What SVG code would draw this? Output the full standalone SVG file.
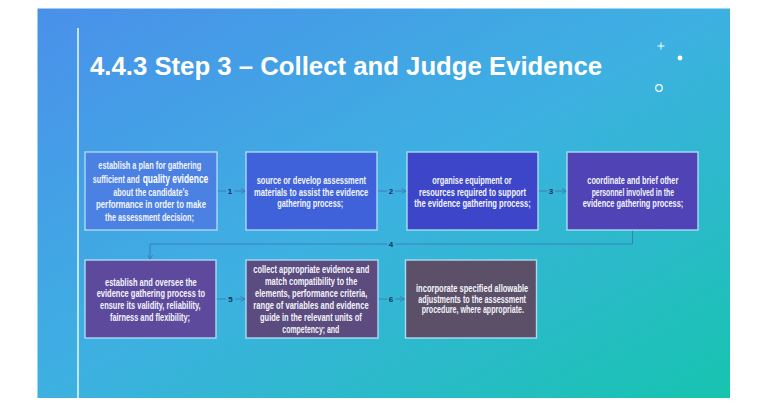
<svg xmlns="http://www.w3.org/2000/svg" width="768" height="408" viewBox="0 0 768 408">
<defs>
<linearGradient id="bg" x1="0" y1="0" x2="1" y2="1">
<stop offset="0" stop-color="#4A90EA"/>
<stop offset="0.5" stop-color="#3DB1E1"/>
<stop offset="1" stop-color="#16C4AF"/>
</linearGradient>
<marker id="arr" viewBox="0 0 6 6" refX="5.5" refY="3" markerWidth="6" markerHeight="6" markerUnits="userSpaceOnUse" orient="auto">
<path d="M1,0.5 L5.5,3 L1,5.5" fill="none" stroke="#3C78B6" stroke-width="0.9"/>
</marker>
<style>
.box{stroke:#A9DAF2;stroke-width:1.4}
.t{font-family:"Liberation Sans Narrow","Liberation Sans",Arial,sans-serif;font-weight:bold;font-size:11.5px;fill:#F2F4FA;text-anchor:start}
.q{font-family:"Liberation Sans Narrow","Liberation Sans",Arial,sans-serif;font-weight:bold;font-size:13px;fill:#FFFFFF}
.c{fill:none;stroke:#3C78B6;stroke-width:0.9}
.n{font-family:"Liberation Sans Narrow","Liberation Sans",Arial,sans-serif;font-weight:bold;font-size:8px;fill:#1B2C55;text-anchor:middle}
.title{font-family:"Liberation Sans",Arial,sans-serif;font-weight:bold;font-size:26px;fill:#FFFFFF}
</style>
</defs>
<rect x="0" y="0" width="768" height="408" fill="#FFFFFF"/>
<rect x="37.5" y="8.5" width="692.5" height="389.5" fill="url(#bg)"/>
<line x1="78" y1="28" x2="78" y2="398" stroke="#E4F2FF" stroke-width="1.6"/>
<text class="title" x="90" y="75" textLength="512" lengthAdjust="spacingAndGlyphs">4.4.3 Step 3 – Collect and Judge Evidence</text>
<g id="decor" stroke="#FFFFFF" fill="none">
<path d="M661,42.5 V49.5 M657.5,46 H664.5" stroke-width="1"/>
<circle cx="680" cy="58" r="2.4" fill="#FFFFFF" stroke="none"/>
<circle cx="659" cy="88" r="3.3" stroke-width="1.2"/>
</g>
<g id="connectors">
<path class="c" d="M217,191 H226"/><path class="c" d="M234,191 H245.5" marker-end="url(#arr)"/>
<text class="n" x="230" y="194">1</text>
<path class="c" d="M377,191 H387"/><path class="c" d="M395,191 H406" marker-end="url(#arr)"/>
<text class="n" x="391" y="194">2</text>
<path class="c" d="M538,191 H547"/><path class="c" d="M555,191 H566.5" marker-end="url(#arr)"/>
<text class="n" x="551" y="194">3</text>
<path class="c" d="M632.5,230 V244 H395"/><path class="c" d="M387,244 H150 V259.5" marker-end="url(#arr)"/>
<text class="n" x="391" y="247">4</text>
<path class="c" d="M216,299 H226"/><path class="c" d="M235,299 H245" marker-end="url(#arr)"/>
<text class="n" x="230.5" y="302">5</text>
<path class="c" d="M378,299 H387"/><path class="c" d="M395,299 H404.5" marker-end="url(#arr)"/>
<text class="n" x="391" y="302">6</text>
</g>
<g id="node1">
<rect class="box" x="85" y="152" width="132" height="78" fill="#4B81E3"/>
<text class="t" x="98.3" y="168.8" textLength="103" lengthAdjust="spacingAndGlyphs">establish a plan for gathering</text>
<text class="t" x="92.7" y="182.8" textLength="47" lengthAdjust="spacingAndGlyphs">sufficient and</text>
<text class="q" x="142.7" y="183.3" textLength="65.6" lengthAdjust="spacingAndGlyphs">quality evidence</text>
<text class="t" x="113.3" y="195.5" textLength="75" lengthAdjust="spacingAndGlyphs">about the candidate’s</text>
<text class="t" x="96" y="208.1" textLength="110" lengthAdjust="spacingAndGlyphs">performance in order to make</text>
<text class="t" x="105" y="221.1" textLength="89" lengthAdjust="spacingAndGlyphs">the assessment decision;</text>
</g>
<g id="node2">
<rect class="box" x="246" y="152" width="131" height="78" fill="#3F62DB"/>
<text class="t" x="256.7" y="183.8" textLength="109.3" lengthAdjust="spacingAndGlyphs">source or develop assessment</text>
<text class="t" x="254" y="195.5" textLength="114.3" lengthAdjust="spacingAndGlyphs">materials to assist the evidence</text>
<text class="t" x="277.3" y="207.1" textLength="66" lengthAdjust="spacingAndGlyphs">gathering process;</text>
</g>
<g id="node3">
<rect class="box" x="407" y="152" width="131" height="78" fill="#3D46C9"/>
<text class="t" x="432.3" y="183.8" textLength="79.4" lengthAdjust="spacingAndGlyphs">organise equipment or</text>
<text class="t" x="419" y="195.5" textLength="107" lengthAdjust="spacingAndGlyphs">resources required to support</text>
<text class="t" x="414.3" y="207.1" textLength="116.4" lengthAdjust="spacingAndGlyphs">the evidence gathering process;</text>
</g>
<g id="node4">
<rect class="box" x="567" y="152" width="131" height="78" fill="#5043B6"/>
<text class="t" x="587.3" y="183.8" textLength="91" lengthAdjust="spacingAndGlyphs">coordinate and brief other</text>
<text class="t" x="591.7" y="195.5" textLength="82.3" lengthAdjust="spacingAndGlyphs">personnel involved in the</text>
<text class="t" x="582.7" y="207.1" textLength="100.6" lengthAdjust="spacingAndGlyphs">evidence gathering process;</text>
</g>
<g id="node5">
<rect class="box" x="85" y="260" width="131" height="78" fill="#5E4A9D"/>
<text class="t" x="105" y="285.8" textLength="91.7" lengthAdjust="spacingAndGlyphs">establish and oversee the</text>
<text class="t" x="96.7" y="297.1" textLength="108.3" lengthAdjust="spacingAndGlyphs">evidence gathering process to</text>
<text class="t" x="100" y="309.1" textLength="100.7" lengthAdjust="spacingAndGlyphs">ensure its validity, reliability,</text>
<text class="t" x="110" y="320.8" textLength="80" lengthAdjust="spacingAndGlyphs">fairness and flexibility;</text>
</g>
<g id="node6">
<rect class="box" x="246" y="260" width="132" height="78" fill="#5B4B7E"/>
<text class="t" x="253.3" y="272.5" textLength="116" lengthAdjust="spacingAndGlyphs">collect appropriate evidence and</text>
<text class="t" x="265" y="284.8" textLength="92.3" lengthAdjust="spacingAndGlyphs">match compatibility to the</text>
<text class="t" x="255" y="296.5" textLength="112.3" lengthAdjust="spacingAndGlyphs">elements, performance criteria,</text>
<text class="t" x="253.3" y="309.1" textLength="115.4" lengthAdjust="spacingAndGlyphs">range of variables and evidence</text>
<text class="t" x="260" y="320.8" textLength="101.7" lengthAdjust="spacingAndGlyphs">guide in the relevant units of</text>
<text class="t" x="282.3" y="333.1" textLength="57" lengthAdjust="spacingAndGlyphs">competency; and</text>
</g>
<g id="node7">
<rect class="box" x="405.5" y="260" width="131" height="78" fill="#5C5068"/>
<text class="t" x="416" y="291.5" textLength="112.3" lengthAdjust="spacingAndGlyphs">incorporate specified allowable</text>
<text class="t" x="418.3" y="302.5" textLength="107.7" lengthAdjust="spacingAndGlyphs">adjustments to the assessment</text>
<text class="t" x="421.7" y="313.1" textLength="102.3" lengthAdjust="spacingAndGlyphs">procedure, where appropriate.</text>
</g>
</svg>
